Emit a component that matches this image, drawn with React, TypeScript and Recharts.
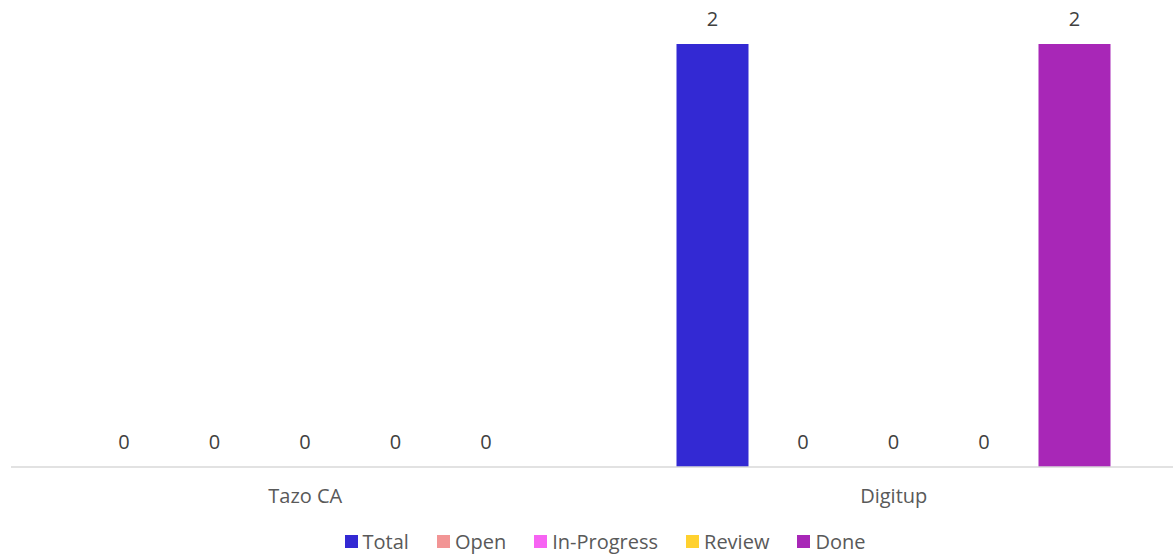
import React from 'react';
import { BarChart, Bar, XAxis, YAxis, Legend, LabelList } from 'recharts';

// projectes i recomptes per estat
const projects = ['Tazo CA', 'Digitup'];
const total = [0, 2];
const open = [0, 0];
const inProgress = [0, 0];
const review = [0, 0];
const done = [0, 2];

const series = [
  { key: 'Total', values: total, color: '#3329D3' },
  { key: 'Open', values: open, color: '#F29595' },
  { key: 'In-Progress', values: inProgress, color: '#F763F3' },
  { key: 'Review', values: review, color: '#FFD12F' },
  { key: 'Done', values: done, color: '#A827B7' },
];

const data = projects.map((name, i) => {
  const row: any = { name };
  series.forEach(s => { row[s.key] = s.values[i]; });
  return row;
});

const FONT = '"Open Sans", sans-serif';

const LegendBox = () => (
  <div style={{ height: 24, paddingLeft: 11, display: 'flex', justifyContent: 'center', alignItems: 'center', fontFamily: FONT, fontSize: 20, color: '#595959' }}>
    {series.map(s => (
      <span key={s.key} style={{ display: 'flex', alignItems: 'center', margin: '0 14px' }}>
        <span style={{ width: 13, height: 13, background: s.color, display: 'inline-block', marginRight: 5 }} />
        {s.key}
      </span>
    ))}
  </div>
);

const App: React.FC = () => {
  return (
    <div style={{ position: 'absolute', left: 0, top: 0, width: 1173, height: 555, overflow: 'hidden', background: '#fff' }}>
      <BarChart
        width={1200}
        height={555}
        data={data}
        margin={{ top: 44, right: 12, bottom: 2, left: 11 }}
        barSize={72}
        barGap={18.5}
      >
        <XAxis
          dataKey="name"
          axisLine={{ stroke: '#d9d9d9', strokeWidth: 1.5 }}
          tickLine={false}
          height={62}
          tickMargin={16}
          tick={{ fill: '#595959', fontSize: 20, fontFamily: FONT }}
        />
        <YAxis hide domain={[0, 2]} />
        <Legend verticalAlign="bottom" height={24} content={<LegendBox />} />
        {series.map(s => (
          <Bar key={s.key} dataKey={s.key} fill={s.color} minPointSize={0.01} isAnimationActive={false}>
            <LabelList dataKey={s.key} position="top" offset={18} fill="#404040" fontSize={20} fontFamily={FONT} />
          </Bar>
        ))}
      </BarChart>
    </div>
  );
};

export default App;
